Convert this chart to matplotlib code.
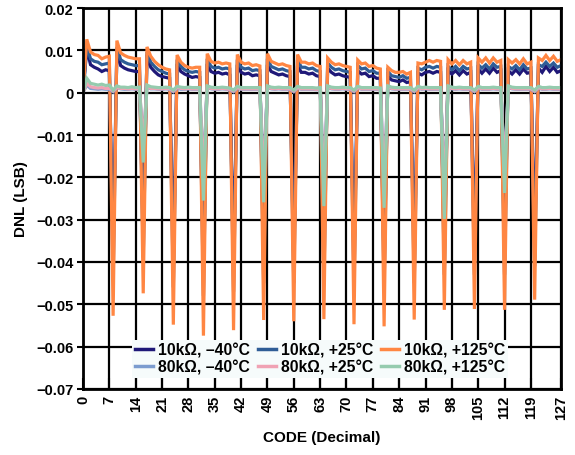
import numpy as np
import matplotlib
matplotlib.use("Agg")
import matplotlib.pyplot as plt

plt.rcParams["font.family"] = ["Liberation Sans", "DejaVu Sans"]
plt.rcParams["font.weight"] = "bold"

codes = np.arange(128)

# DNL per code, one row of 8 codes per line (first entry of each row is the 8k code)
dnl_10k_p125 = [
    0.0000, 0.0126, 0.0096, 0.0090, 0.0088, 0.0080, 0.0084, 0.0086,
    -0.0527, 0.0123, 0.0094, 0.0088, 0.0084, 0.0082, 0.0080, 0.0080,
    -0.0474, 0.0108, 0.0086, 0.0074, 0.0066, 0.0060, 0.0056, 0.0054,
    -0.0548, 0.0089, 0.0072, 0.0064, 0.0060, 0.0058, 0.0060, 0.0060,
    -0.0574, 0.0092, 0.0074, 0.0070, 0.0072, 0.0068, 0.0070, 0.0068,
    -0.0561, 0.0090, 0.0072, 0.0068, 0.0070, 0.0064, 0.0066, 0.0063,
    -0.0537, 0.0092, 0.0074, 0.0070, 0.0066, 0.0068, 0.0064, 0.0062,
    -0.0540, 0.0090, 0.0072, 0.0072, 0.0068, 0.0070, 0.0064, 0.0062,
    -0.0535, 0.0082, 0.0072, 0.0066, 0.0068, 0.0064, 0.0062, 0.0060,
    -0.0547, 0.0077, 0.0068, 0.0070, 0.0062, 0.0064, 0.0058, 0.0056,
    -0.0552, 0.0060, 0.0052, 0.0048, 0.0048, 0.0050, 0.0044, 0.0048,
    -0.0536, 0.0070, 0.0068, 0.0072, 0.0076, 0.0072, 0.0076, 0.0074,
    -0.0513, 0.0078, 0.0068, 0.0076, 0.0066, 0.0076, 0.0068, 0.0072,
    -0.0511, 0.0082, 0.0072, 0.0082, 0.0070, 0.0082, 0.0072, 0.0076,
    -0.0513, 0.0078, 0.0070, 0.0078, 0.0068, 0.0080, 0.0068, 0.0072,
    -0.0489, 0.0082, 0.0076, 0.0088, 0.0076, 0.0086, 0.0074, 0.0078,
]

dnl_10k_p25 = [
    0.0000, 0.0110, 0.0080, 0.0074, 0.0072, 0.0066, 0.0068, 0.0070,
    -0.0440, 0.0108, 0.0078, 0.0072, 0.0068, 0.0066, 0.0064, 0.0064,
    -0.0390, 0.0096, 0.0072, 0.0062, 0.0054, 0.0050, 0.0046, 0.0044,
    -0.0460, 0.0078, 0.0062, 0.0054, 0.0050, 0.0048, 0.0050, 0.0048,
    -0.0480, 0.0080, 0.0062, 0.0058, 0.0060, 0.0056, 0.0058, 0.0056,
    -0.0470, 0.0078, 0.0060, 0.0056, 0.0058, 0.0052, 0.0054, 0.0052,
    -0.0450, 0.0080, 0.0062, 0.0058, 0.0054, 0.0056, 0.0052, 0.0050,
    -0.0450, 0.0078, 0.0060, 0.0060, 0.0056, 0.0058, 0.0052, 0.0050,
    -0.0450, 0.0070, 0.0060, 0.0054, 0.0056, 0.0052, 0.0050, 0.0048,
    -0.0460, 0.0064, 0.0056, 0.0058, 0.0050, 0.0052, 0.0046, 0.0046,
    -0.0460, 0.0050, 0.0040, 0.0038, 0.0036, 0.0040, 0.0034, 0.0036,
    -0.0450, 0.0058, 0.0054, 0.0060, 0.0062, 0.0058, 0.0062, 0.0060,
    -0.0430, 0.0062, 0.0054, 0.0062, 0.0052, 0.0062, 0.0056, 0.0058,
    -0.0430, 0.0066, 0.0058, 0.0066, 0.0056, 0.0068, 0.0060, 0.0062,
    -0.0430, 0.0062, 0.0056, 0.0064, 0.0054, 0.0066, 0.0056, 0.0058,
    -0.0410, 0.0066, 0.0062, 0.0072, 0.0062, 0.0070, 0.0060, 0.0064,
]

dnl_10k_m40 = [
    0.0000, 0.0104, 0.0066, 0.0060, 0.0056, 0.0050, 0.0054, 0.0052,
    -0.0380, 0.0100, 0.0064, 0.0058, 0.0054, 0.0052, 0.0050, 0.0050,
    -0.0340, 0.0090, 0.0060, 0.0050, 0.0042, 0.0038, 0.0036, 0.0034,
    -0.0400, 0.0068, 0.0050, 0.0044, 0.0040, 0.0036, 0.0038, 0.0036,
    -0.0420, 0.0068, 0.0050, 0.0046, 0.0048, 0.0044, 0.0046, 0.0042,
    -0.0410, 0.0066, 0.0048, 0.0044, 0.0046, 0.0040, 0.0042, 0.0040,
    -0.0390, 0.0066, 0.0050, 0.0046, 0.0042, 0.0044, 0.0040, 0.0038,
    -0.0400, 0.0064, 0.0048, 0.0048, 0.0044, 0.0046, 0.0040, 0.0038,
    -0.0390, 0.0058, 0.0048, 0.0042, 0.0044, 0.0040, 0.0038, 0.0036,
    -0.0400, 0.0052, 0.0044, 0.0046, 0.0038, 0.0040, 0.0034, 0.0034,
    -0.0410, 0.0040, 0.0030, 0.0028, 0.0026, 0.0030, 0.0024, 0.0026,
    -0.0390, 0.0046, 0.0042, 0.0048, 0.0050, 0.0046, 0.0050, 0.0048,
    -0.0370, 0.0052, 0.0044, 0.0052, 0.0042, 0.0052, 0.0044, 0.0048,
    -0.0370, 0.0056, 0.0046, 0.0056, 0.0046, 0.0058, 0.0048, 0.0052,
    -0.0370, 0.0052, 0.0044, 0.0054, 0.0044, 0.0056, 0.0046, 0.0048,
    -0.0350, 0.0058, 0.0048, 0.0062, 0.0050, 0.0060, 0.0048, 0.0052,
]

dnl_80k_m40 = [
    0.0000, 0.0018, 0.0010, 0.0009, 0.0008, 0.0009, 0.0008, 0.0008,
    0.0002, 0.0012, 0.0009, 0.0008, 0.0008, 0.0009, 0.0008, 0.0008,
    -0.0110, 0.0013, 0.0009, 0.0009, 0.0008, 0.0008, 0.0009, 0.0008,
    0.0002, 0.0011, 0.0008, 0.0008, 0.0009, 0.0008, 0.0008, 0.0008,
    -0.0180, 0.0012, 0.0009, 0.0008, 0.0008, 0.0009, 0.0008, 0.0007,
    0.0002, 0.0011, 0.0008, 0.0008, 0.0008, 0.0008, 0.0008, 0.0008,
    -0.0190, 0.0012, 0.0009, 0.0008, 0.0009, 0.0008, 0.0008, 0.0008,
    0.0002, 0.0011, 0.0008, 0.0008, 0.0008, 0.0008, 0.0007, 0.0008,
    -0.0200, 0.0012, 0.0009, 0.0008, 0.0008, 0.0009, 0.0008, 0.0008,
    0.0002, 0.0011, 0.0008, 0.0008, 0.0008, 0.0008, 0.0008, 0.0007,
    -0.0200, 0.0012, 0.0009, 0.0008, 0.0008, 0.0008, 0.0008, 0.0008,
    0.0002, 0.0011, 0.0008, 0.0009, 0.0008, 0.0008, 0.0008, 0.0008,
    -0.0220, 0.0012, 0.0009, 0.0008, 0.0009, 0.0008, 0.0008, 0.0008,
    0.0002, 0.0011, 0.0008, 0.0008, 0.0008, 0.0009, 0.0008, 0.0008,
    -0.0170, 0.0012, 0.0009, 0.0008, 0.0008, 0.0008, 0.0008, 0.0008,
    0.0002, 0.0011, 0.0008, 0.0008, 0.0009, 0.0008, 0.0008, 0.0008,
]

dnl_80k_p25 = [
    0.0000, 0.0022, 0.0014, 0.0012, 0.0011, 0.0012, 0.0010, 0.0010,
    0.0004, 0.0012, 0.0010, 0.0010, 0.0009, 0.0010, 0.0009, 0.0009,
    -0.0120, 0.0014, 0.0010, 0.0010, 0.0009, 0.0009, 0.0010, 0.0009,
    0.0004, 0.0012, 0.0010, 0.0009, 0.0010, 0.0009, 0.0009, 0.0009,
    -0.0200, 0.0013, 0.0010, 0.0009, 0.0009, 0.0010, 0.0009, 0.0008,
    0.0004, 0.0012, 0.0009, 0.0009, 0.0009, 0.0009, 0.0009, 0.0009,
    -0.0210, 0.0013, 0.0010, 0.0009, 0.0010, 0.0009, 0.0009, 0.0009,
    0.0004, 0.0012, 0.0009, 0.0009, 0.0009, 0.0009, 0.0008, 0.0009,
    -0.0220, 0.0013, 0.0010, 0.0009, 0.0009, 0.0010, 0.0009, 0.0009,
    0.0004, 0.0012, 0.0009, 0.0009, 0.0009, 0.0009, 0.0009, 0.0008,
    -0.0220, 0.0013, 0.0010, 0.0009, 0.0009, 0.0009, 0.0009, 0.0009,
    0.0004, 0.0012, 0.0009, 0.0010, 0.0009, 0.0009, 0.0009, 0.0009,
    -0.0240, 0.0013, 0.0010, 0.0009, 0.0010, 0.0009, 0.0009, 0.0009,
    0.0004, 0.0012, 0.0009, 0.0009, 0.0009, 0.0010, 0.0009, 0.0009,
    -0.0190, 0.0013, 0.0010, 0.0009, 0.0009, 0.0009, 0.0009, 0.0009,
    0.0004, 0.0012, 0.0009, 0.0009, 0.0010, 0.0009, 0.0009, 0.0009,
]

dnl_80k_p125 = [
    0.0000, 0.0034, 0.0022, 0.0020, 0.0018, 0.0020, 0.0017, 0.0018,
    0.0006, 0.0016, 0.0013, 0.0013, 0.0012, 0.0014, 0.0012, 0.0013,
    -0.0165, 0.0018, 0.0014, 0.0013, 0.0012, 0.0012, 0.0013, 0.0012,
    0.0006, 0.0015, 0.0013, 0.0012, 0.0013, 0.0012, 0.0012, 0.0012,
    -0.0255, 0.0016, 0.0013, 0.0012, 0.0012, 0.0013, 0.0012, 0.0011,
    0.0006, 0.0015, 0.0012, 0.0012, 0.0012, 0.0012, 0.0012, 0.0012,
    -0.0259, 0.0016, 0.0013, 0.0012, 0.0013, 0.0012, 0.0012, 0.0012,
    0.0006, 0.0015, 0.0012, 0.0012, 0.0012, 0.0012, 0.0011, 0.0012,
    -0.0268, 0.0016, 0.0013, 0.0012, 0.0012, 0.0013, 0.0012, 0.0012,
    0.0006, 0.0015, 0.0012, 0.0012, 0.0012, 0.0012, 0.0012, 0.0011,
    -0.0272, 0.0016, 0.0013, 0.0012, 0.0012, 0.0012, 0.0012, 0.0012,
    0.0006, 0.0015, 0.0012, 0.0013, 0.0012, 0.0012, 0.0012, 0.0012,
    -0.0298, 0.0016, 0.0013, 0.0012, 0.0013, 0.0012, 0.0012, 0.0012,
    0.0006, 0.0015, 0.0012, 0.0012, 0.0012, 0.0013, 0.0012, 0.0012,
    -0.0237, 0.0016, 0.0013, 0.0012, 0.0012, 0.0012, 0.0012, 0.0012,
    0.0006, 0.0015, 0.0012, 0.0012, 0.0013, 0.0012, 0.0012, 0.0012,
]

x_ticks = [0, 7, 14, 21, 28, 35, 42, 49, 56, 63, 70, 77, 84, 91, 98, 105, 112, 119, 127]
y_ticks = [-0.07, -0.06, -0.05, -0.04, -0.03, -0.02, -0.01, 0, 0.01, 0.02]

series = [
    # (label, data, color, zorder)
    ("10k\u03a9, \u201340\u00b0C", dnl_10k_m40, "#1f1878", 3),
    ("80k\u03a9, \u201340\u00b0C", dnl_80k_m40, "#7c9ccf", 6),
    ("10k\u03a9, +25\u00b0C", dnl_10k_p25, "#2f5d96", 4),
    ("80k\u03a9, +25\u00b0C", dnl_80k_p25, "#f0a2b4", 7),
    ("10k\u03a9, +125\u00b0C", dnl_10k_p125, "#ff8642", 5),
    ("80k\u03a9, +125\u00b0C", dnl_80k_p125, "#95cbae", 8),
]

fig = plt.figure(figsize=(5.75, 4.56), dpi=100)
ax = fig.add_axes([83 / 575, 1 - 390 / 456, (561 - 83) / 575, (390 - 9) / 456])

for label, data, color, z in series:
    ax.plot(codes, data, color=color, lw=2.3, label=label, zorder=z,
            solid_joinstyle="miter")

ax.set_xlim(0, 127)
ax.set_ylim(-0.07, 0.02)
ax.set_xticks(x_ticks)
ax.set_xticklabels([str(t) for t in x_ticks], rotation=90, fontsize=10.5,
                   fontweight="bold")
ax.set_yticks(y_ticks)
ylabels = []
for v in y_ticks:
    if abs(v) < 1e-12:
        ylabels.append("0")
    elif v < 0:
        ylabels.append("\u2212%.2f" % abs(v))
    else:
        ylabels.append("%.2f" % v)
ax.set_yticklabels(ylabels, fontsize=10.5, fontweight="bold")

ax.grid(True, color="black", lw=1.6, zorder=1)
ax.set_axisbelow(True)
for s in ax.spines.values():
    s.set_linewidth(2.0)
    s.set_color("black")
    s.set_zorder(20)

ax.tick_params(axis="x", direction="in", length=8, width=1.5, pad=4,
               colors="black")
ax.tick_params(axis="y", direction="out", length=4, width=1.5, pad=3)

ax.set_xlabel("CODE (Decimal)", fontsize=11, fontweight="bold", labelpad=8)
ax.set_ylabel("DNL (LSB)", fontsize=11, fontweight="bold", labelpad=6)

leg = ax.legend(loc="lower center", bbox_to_anchor=(0.496, 0.03), ncol=3,
                fontsize=11.3, frameon=True, handlelength=1.15,
                handletextpad=0.3, columnspacing=0.5, labelspacing=0.1,
                borderpad=0.2, borderaxespad=0.0, fancybox=False)
leg.get_frame().set_facecolor("#f6fbfb")
leg.get_frame().set_edgecolor("none")
leg.get_frame().set_alpha(1.0)
leg.set_zorder(15)
for h in leg.get_lines():
    h.set_linewidth(2.5)
for t in leg.get_texts():
    t.set_fontweight("bold")

fig.savefig("out.png", dpi=100)
